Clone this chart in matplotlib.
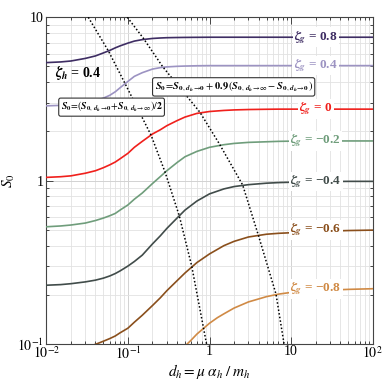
import matplotlib
matplotlib.use("Agg")
import matplotlib.pyplot as plt
from matplotlib.ticker import FixedLocator, LogLocator, NullFormatter

plt.rcParams['font.family'] = ['Liberation Serif', 'DejaVu Serif']
plt.rcParams['mathtext.fontset'] = 'stix'

# ---- data ----
d_common = [0.01, 0.015, 0.02, 0.03, 0.04, 0.05, 0.06, 0.07, 0.08, 0.1, 0.12, 0.15, 0.2, 0.25, 0.3, 0.4, 0.5, 0.7,
            1, 1.5, 2, 3, 5, 7, 10, 20, 50, 100]
S_zg_p08 = [5.28, 5.33, 5.40, 5.60, 5.80, 6.05, 6.27, 6.50, 6.68, 6.95, 7.15, 7.30, 7.42, 7.47, 7.50, 7.52, 7.53, 7.54,
            7.55, 7.55, 7.55, 7.55, 7.55, 7.55, 7.55, 7.55, 7.55, 7.55]
S_zg_p04 = [2.87, 2.89, 2.92, 3.00, 3.09, 3.20, 3.33, 3.50, 3.70, 4.05, 4.35, 4.58, 4.82, 4.92, 4.97, 5.01, 5.03, 5.05,
            5.06, 5.06, 5.06, 5.06, 5.06, 5.06, 5.06, 5.06, 5.06, 5.06]
S_zg_0 = [1.047, 1.057, 1.07, 1.11, 1.15, 1.20, 1.25, 1.30, 1.36, 1.47, 1.60, 1.74, 1.93, 2.05, 2.17, 2.33, 2.45, 2.58,
          2.65, 2.69, 2.71, 2.725, 2.735, 2.74, 2.74, 2.74, 2.74, 2.74]
S_zg_m02 = [0.522, 0.528, 0.535, 0.55, 0.57, 0.59, 0.61, 0.63, 0.66, 0.71, 0.77, 0.84, 0.96, 1.06, 1.15, 1.29, 1.40, 1.51,
            1.60, 1.66, 1.69, 1.715, 1.73, 1.74, 1.745, 1.75, 1.75, 1.75]
S_zg_m04 = [0.229, 0.231, 0.234, 0.24, 0.246, 0.253, 0.261, 0.27, 0.28, 0.30, 0.32, 0.35, 0.41, 0.46, 0.51, 0.59, 0.66, 0.75,
            0.83, 0.89, 0.92, 0.945, 0.965, 0.973, 0.978, 0.985, 0.99, 0.99]
d_zg_m06 = [0.03, 0.04, 0.05, 0.06, 0.07, 0.08, 0.1, 0.12, 0.15, 0.2, 0.25, 0.3, 0.4, 0.5, 0.7, 1, 1.5, 2, 3, 5, 7, 10,
            20, 50, 100]
S_zg_m06 = [0.095, 0.0995, 0.104, 0.108, 0.112, 0.117, 0.125, 0.136, 0.150, 0.172, 0.192, 0.212, 0.244, 0.272, 0.315,
            0.356, 0.400, 0.425, 0.452, 0.470, 0.476, 0.480, 0.488, 0.495, 0.498]
d_zg_m08 = [0.5, 0.6, 0.7, 0.85, 1, 1.25, 1.5, 2, 3, 5, 7, 10, 20, 50, 100]
S_zg_m08 = [0.097, 0.106, 0.115, 0.125, 0.134, 0.145, 0.153, 0.166, 0.181, 0.195, 0.202, 0.207, 0.212, 0.216, 0.218]

# loci: midpoint and 90% point
d_half = [0.0327, 0.0575, 0.092, 0.155, 0.192, 0.285, 0.426, 0.605, 0.84, 0.92]
S_half = [10, 6.24, 3.94, 2.35, 1.90, 1.13, 0.61, 0.30, 0.127, 0.1]
d_ninety = [0.0984, 0.155, 0.267, 0.76, 1.32, 2.55, 3.96, 6.53, 8.2]
S_ninety = [10, 7.43, 4.98, 2.63, 1.68, 0.94, 0.465, 0.202, 0.1]

curve_labels = ["0.8", "0.4", "0", "\u22120.2", "\u22120.4", "\u22120.6", "\u22120.8"]
curve_colors = ["#3e2d63", "#9c93c2", "#f0201c", "#6f9d7b", "#414c4a", "#8a4f1c", "#d08a45"]

x_ticks = [0.01, 0.1, 1, 10, 100]
x_ticklabels = [r"$10^{-2}$", r"$10^{-1}$", "1", "10", r"$10^{2}$"]
y_ticks = [0.1, 1, 10]
y_ticklabels = [r"$10^{-1}$", "1", "10"]

series = [
    (d_common, S_zg_p08), (d_common, S_zg_p04), (d_common, S_zg_0),
    (d_common, S_zg_m02), (d_common, S_zg_m04), (d_zg_m06, S_zg_m06), (d_zg_m08, S_zg_m08),
]

fig = plt.figure(figsize=(3.82, 3.80), dpi=100)
ax = fig.add_axes([0.1212, 0.0947, 0.8545, 0.8598])
ax.set_xscale('log')
ax.set_yscale('log')
ax.set_xlim(0.01, 100)
ax.set_ylim(0.1, 10)

ax.xaxis.set_major_locator(FixedLocator(x_ticks))
ax.set_xticklabels(x_ticklabels)
ax.yaxis.set_major_locator(FixedLocator(y_ticks))
ax.set_yticklabels(y_ticklabels)
ax.xaxis.set_minor_locator(LogLocator(base=10, subs=range(2, 10)))
ax.yaxis.set_minor_locator(LogLocator(base=10, subs=range(2, 10)))
ax.xaxis.set_minor_formatter(NullFormatter())
ax.yaxis.set_minor_formatter(NullFormatter())
ax.tick_params(which='both', direction='in', top=True, right=True, colors='#444444',
               labelcolor='black', labelsize=10, width=0.7)
ax.tick_params(which='major', length=5)
ax.tick_params(which='minor', length=2.5)
ax.tick_params(axis='x', pad=1)
ax.tick_params(axis='y', pad=2)
ax.grid(True, which='major', color='#d2d2d2', lw=0.7)
ax.grid(True, which='minor', color='#e2e2e2', lw=0.6)
for s in ax.spines.values():
    s.set_color('#444444')
    s.set_linewidth(0.8)

for (dd, ss), col, lab in zip(series, curve_colors, curve_labels):
    ax.plot(dd, ss, color=col, lw=1.2, zorder=3, solid_joinstyle='round')
    ax.text(20, ss[-1], r"$\mathbfit{\zeta_g}$" + " = " + lab, color=col, fontsize=9.5,
            fontweight='bold', ha='center', va='center', zorder=5,
            bbox=dict(facecolor='white', edgecolor='none', pad=1.0))

ax.plot(d_half, S_half, color='black', lw=1.1, ls=(0, (1, 1.4)), zorder=4)
ax.plot(d_ninety, S_ninety, color='black', lw=1.1, ls=(0, (1, 1.4)), zorder=4)

ax.text(0.097, 0.831, r"$\mathbfit{\zeta_h}$" + " = 0.4", transform=ax.transAxes,
        fontsize=10, fontweight='bold', ha='center', va='center', zorder=5)

box1 = (r"$\mathbfit{S}_\mathbf{0}\!=\!(\mathbfit{S}_{\mathbf{0},\,\mathbfit{d}_\mathbfit{h}\!\to\!\mathbf{0}}"
        r"\!+\!\mathbfit{S}_{\mathbf{0},\,\mathbfit{d}_\mathbfit{h}\!\to\!\infty})/\mathbf{2}$")
box2 = (r"$\mathbfit{S}_\mathbf{0}\!=\!\mathbfit{S}_{\mathbf{0},\,\mathbfit{d}_\mathbfit{h}\!\to\!\mathbf{0}}"
        r"+\mathbf{0.9}\,(\mathbfit{S}_{\mathbf{0},\,\mathbfit{d}_\mathbfit{h}\!\to\!\infty}"
        r"-\mathbfit{S}_{\mathbf{0},\,\mathbfit{d}_\mathbfit{h}\!\to\!\mathbf{0}})$")
ax.text(0.200, 0.725, box1, transform=ax.transAxes, fontsize=7, ha='center', va='center', zorder=6,
        bbox=dict(boxstyle='round,pad=0.2,rounding_size=0.2', facecolor='white', edgecolor='#333333', lw=0.8))
ax.text(0.574, 0.787, box2, transform=ax.transAxes, fontsize=7.5, ha='center', va='center', zorder=6,
        bbox=dict(boxstyle='round,pad=0.2,rounding_size=0.2', facecolor='white', edgecolor='#333333', lw=0.8))

ax.set_xlabel(r"$d_h = \mu\;\alpha_h\;/\;m_h$", fontsize=11, labelpad=0)
ax.set_ylabel(r"$S_0$", fontsize=11)
ax.yaxis.set_label_coords(-0.09, 0.5)

fig.savefig("out.png", dpi=100)
